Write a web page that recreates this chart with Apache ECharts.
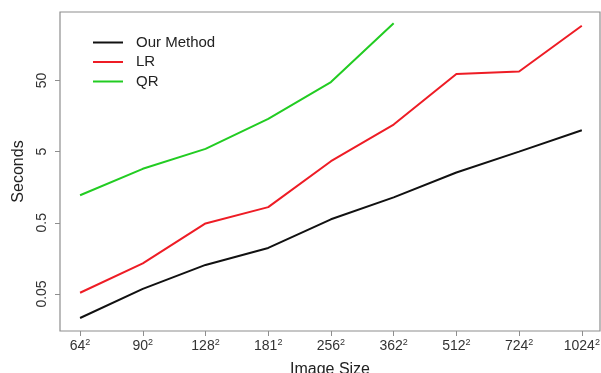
<!DOCTYPE html>
<html>
<head>
<meta charset="utf-8">
<script src="https://cdn.jsdelivr.net/npm/echarts@6/dist/echarts.min.js"></script>
<style>
html,body{margin:0;padding:0;background:#fff;}
#c{width:601px;height:373px;}
</style>
</head>
<body>
<div id="c"></div>
<script>
// Image sizes (side length, squared on the label)
var categories = ['64', '90', '128', '181', '256', '362', '512', '724', '1024'];
// Run time in seconds
var ourMethod = [0.023, 0.059, 0.128, 0.222, 0.56, 1.14, 2.55, 5.0, 10.0];
var lr = [0.052, 0.135, 0.49, 0.83, 3.67, 12.0, 61.5, 66.8, 294];
var qr = [1.22, 2.87, 5.47, 14.4, 47.5, 318, null, null, null];
// Y tick labels
var yTicks = [0.05, 0.5, 5, 50];

function toPairs(arr) {
  var out = [];
  arr.forEach(function (v, i) {
    if (v !== null) out.push([i, Math.log10(v)]);
  });
  return out;
}

var chart = echarts.init(document.getElementById('c'), null, {renderer: 'canvas'});
var font = 'Liberation Sans, Arial, sans-serif';
var axisGray = '#8e8e8e';

chart.setOption({
  animation: false,
  textStyle: {fontFamily: font},
  grid: {
    left: 60, right: 1, top: 12, bottom: 42,
    containLabel: false,
    outerBoundsMode: 'none',
    show: true, borderColor: axisGray, borderWidth: 1.2, backgroundColor: '#fff'
  },
  legend: {
    orient: 'vertical',
    left: 93, top: 35,
    padding: 0,
    icon: 'rect',
    itemWidth: 30, itemHeight: 2, itemGap: 4.5,
    textStyle: {fontSize: 15, lineHeight: 14, color: '#222', fontFamily: font, padding: [0, 0, 0, 8]},
    data: ['Our Method', 'LR', 'QR']
  },
  xAxis: {
    type: 'value',
    min: -0.32, max: 8.29,
    name: 'Image Size',
    nameLocation: 'middle',
    nameGap: 31,
    nameTextStyle: {fontSize: 16, color: '#222', fontFamily: font},
    axisLine: {show: false, onZero: false},
    splitLine: {show: false},
    axisTick: {show: true, inside: false, length: 5, lineStyle: {color: axisGray, width: 1}, customValues: categories.map(function (c, i) { return i; })},
    axisLabel: {
      customValues: categories.map(function (c, i) { return i; }),
      margin: 7,
      formatter: function (v) {
        return '{a|' + categories[Math.round(v)] + '}{s|2}';
      },
      rich: {
        a: {fontSize: 14, color: '#333', fontFamily: font, lineHeight: 16},
        s: {fontSize: 9, color: '#333', fontFamily: font, verticalAlign: 'top', lineHeight: 16}
      }
    }
  },
  yAxis: {
    type: 'value',
    min: -1.821, max: 2.661,
    name: 'Seconds',
    nameLocation: 'middle',
    nameRotate: 90,
    nameGap: 33,
    nameTextStyle: {fontSize: 16, color: '#222', fontFamily: font},
    axisLine: {show: false, onZero: false},
    splitLine: {show: false},
    axisTick: {show: true, inside: false, length: 5, lineStyle: {color: axisGray, width: 1}, customValues: yTicks.map(function (t) { return Math.log10(t); })},
    axisLabel: {
      customValues: yTicks.map(function (t) { return Math.log10(t); }),
      rotate: 90,
      margin: 11,
      fontSize: 14,
      color: '#333',
      fontFamily: font,
      formatter: function (v) {
        return String(Number(Math.pow(10, v).toPrecision(2)));
      }
    }
  },
  series: [
    {name: 'Our Method', type: 'line', data: toPairs(ourMethod), symbol: 'none', lineStyle: {color: '#111', width: 2}, itemStyle: {color: '#111'}},
    {name: 'LR', type: 'line', data: toPairs(lr), symbol: 'none', lineStyle: {color: '#ee1c25', width: 2}, itemStyle: {color: '#ee1c25'}},
    {name: 'QR', type: 'line', data: toPairs(qr), symbol: 'none', lineStyle: {color: '#22cc22', width: 2}, itemStyle: {color: '#22cc22'}}
  ]
});
</script>
</body>
</html>
